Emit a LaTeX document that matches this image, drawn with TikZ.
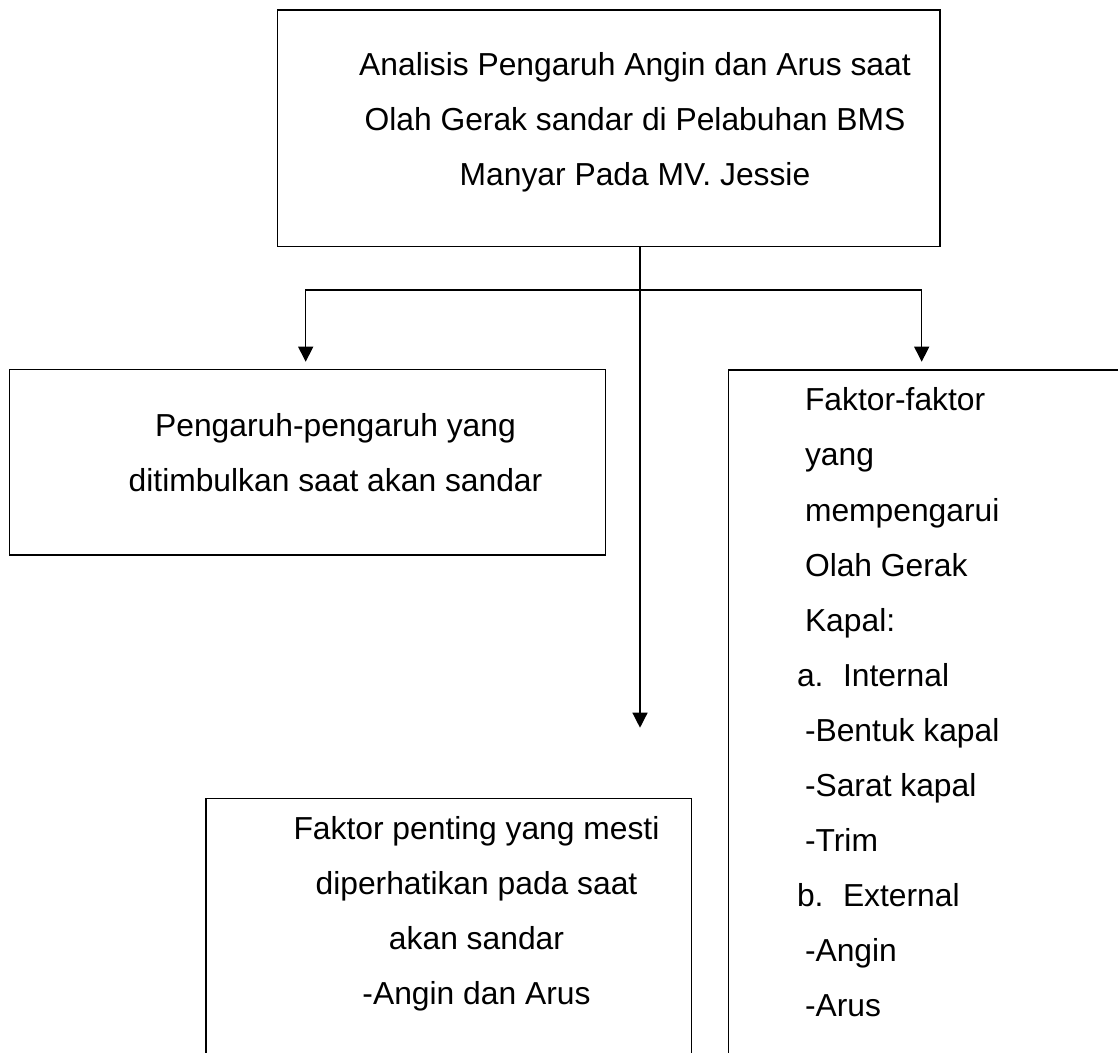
\documentclass[tikz,border=0pt]{standalone}
\usepackage{fontspec}
\setmainfont{Liberation Sans}
\usetikzlibrary{arrows.meta,calc}
\begin{document}
\begin{tikzpicture}[x=1pt,y=-1pt,
  box/.style={draw,line width=1.3pt,rectangle,inner sep=0pt,outer sep=0pt,anchor=north west},
  lbl/.style={inner sep=0pt,outer sep=0pt,font=\fontsize{31.8pt}{38pt}\selectfont},
  cl/.style={lbl,anchor=base},
  ll/.style={lbl,anchor=base west},
  conn/.style={line width=1.3pt},
  arr/.style={conn,-{Triangle[length=15pt,width=15pt]}}]
\useasboundingbox (0,0) rectangle (1118,1052);
\clip (0,0) rectangle (1118,1052);
\fill[white] (0,0) rectangle (1118,1052);

% boxes
\node[box,minimum width=662.7pt,minimum height=236.7pt] (top) at (277.3,10) {};
\node[box,minimum width=596.4pt,minimum height=185.7pt] (left) at (9.3,369.3) {};
\node[box,minimum width=500pt,minimum height=800pt] (right) at (728.3,370) {};
\node[box,minimum width=485.7pt,minimum height=400pt] (mid) at (206,798.3) {};

% top box text
\node[cl] (t1) at (635,75) {Analisis Pengaruh Angin dan Arus saat};
\node[cl] (t2) at (635,130.3) {Olah Gerak sandar di Pelabuhan BMS};
\node[cl] (t3) at (635,185.6) {Manyar Pada MV. Jessie};

% left box text
\node[cl] (l1) at (335.5,436.7) {Pengaruh-pengaruh yang};
\node[cl] (l2) at (335.5,491.7) {ditimbulkan saat akan sandar};

% middle box text
\node[cl] (m1) at (476.5,839) {Faktor penting yang mesti};
\node[cl] (m2) at (476.5,894.3) {diperhatikan pada saat};
\node[cl] (m3) at (476.5,949.6) {akan sandar};
\node[cl] (m4) at (476.5,1004.9) {-Angin dan Arus};

% right box text
\node[ll] (r1) at (805,410.8) {Faktor-faktor};
\node[ll] (r2) at (805,465.9) {yang};
\node[ll] (r3) at (805,521) {mempengarui};
\node[ll] (r4) at (805,576.1) {Olah Gerak};
\node[ll] (r5) at (805,631.2) {Kapal:};
\node[ll] (r6a) at (797,686.3) {a.};
\node[ll] (r6b) at (843,686.3) {Internal};
\node[ll] (r7) at (805,741.4) {-Bentuk kapal};
\node[ll] (r8) at (805,796.5) {-Sarat kapal};
\node[ll] (r9) at (805,851.6) {-Trim};
\node[ll] (r10a) at (797,906.7) {b.};
\node[ll] (r10b) at (843,906.7) {External};
\node[ll] (r11) at (805,961.8) {-Angin};
\node[ll] (r12) at (805,1016.9) {-Arus};

% connectors
\coordinate (j) at (640,290);
\coordinate (midend) at (640,727.7);
\draw[arr] (top.south -| j) -- (midend);
\draw[arr,shorten >=7.6pt] (j) -| ([xshift=-1.8pt]left.north);
\draw[arr,shorten >=8.3pt] (j) -| ([xshift=193.4pt]right.north west);
\end{tikzpicture}
\end{document}
